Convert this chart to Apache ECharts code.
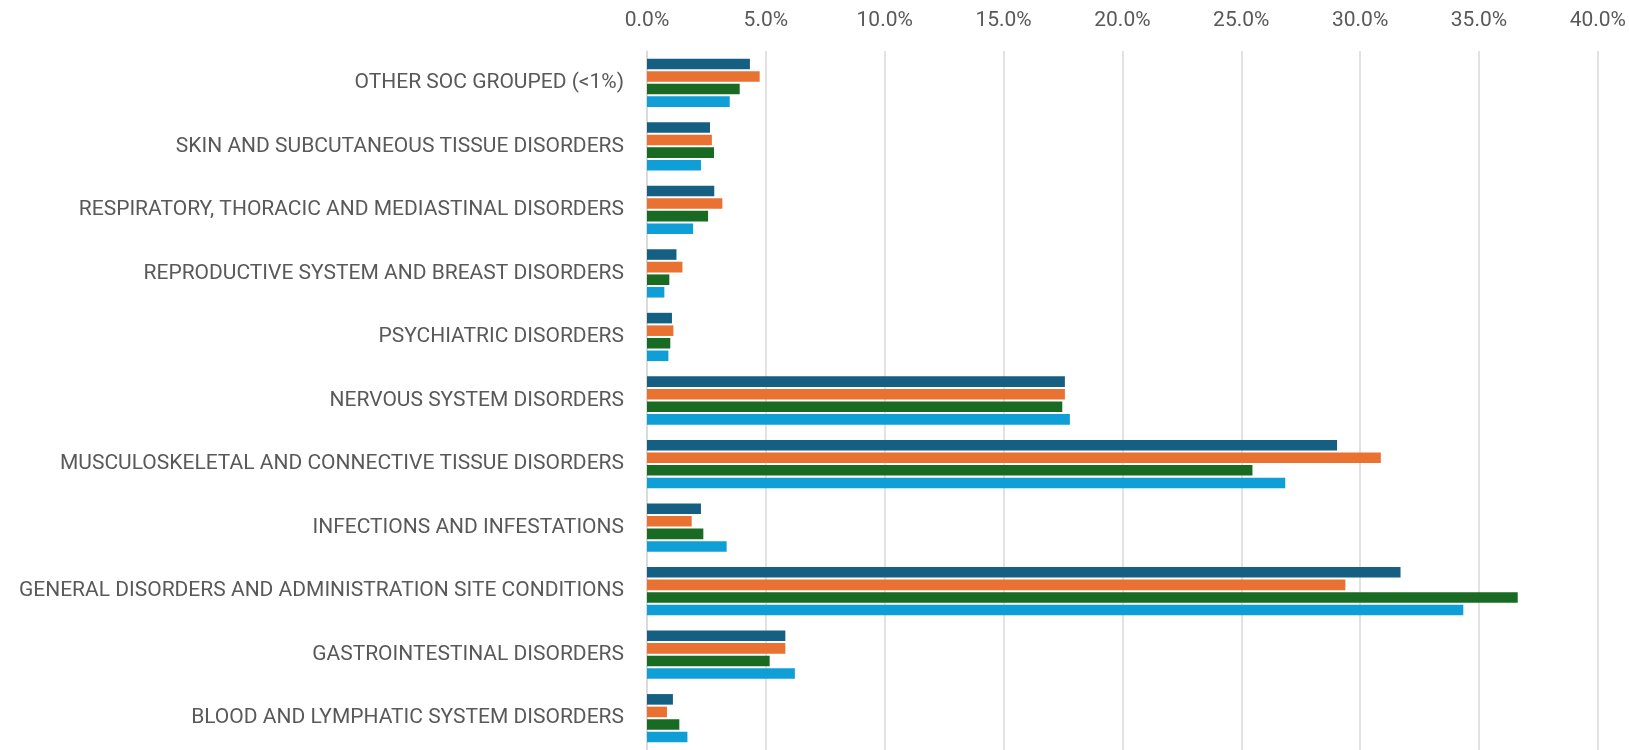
<!DOCTYPE html>
<html>
<head>
<meta charset="utf-8">
<script src="https://cdn.jsdelivr.net/npm/echarts@6/dist/echarts.min.js"></script>
<style>
    html, body { margin: 0; padding: 0; background: #fff; }
    #chart { width: 1629px; height: 750px; }
</style>
</head>
<body>
<div id="chart"></div>
<script>
// categories, bottom to top (as echarts draws a y category axis)
const categories = [
    'BLOOD AND LYMPHATIC SYSTEM DISORDERS',
    'GASTROINTESTINAL DISORDERS',
    'GENERAL DISORDERS AND ADMINISTRATION SITE CONDITIONS',
    'INFECTIONS AND INFESTATIONS',
    'MUSCULOSKELETAL AND CONNECTIVE TISSUE DISORDERS',
    'NERVOUS SYSTEM DISORDERS',
    'PSYCHIATRIC DISORDERS',
    'REPRODUCTIVE SYSTEM AND BREAST DISORDERS',
    'RESPIRATORY, THORACIC AND MEDIASTINAL DISORDERS',
    'SKIN AND SUBCUTANEOUS TISSUE DISORDERS',
    'OTHER SOC GROUPED (<1%)'
];

// percentages, same order as categories
const series1 = [1.09, 5.82, 31.70, 2.27, 29.03, 17.58, 1.05, 1.24, 2.83, 2.65, 4.33];
const series2 = [0.84, 5.82, 29.38, 1.88, 30.87, 17.58, 1.11, 1.49, 3.17, 2.73, 4.74];
const series3 = [1.36, 5.16, 36.63, 2.37, 25.47, 17.47, 0.98, 0.94, 2.57, 2.82, 3.90];
const series4 = [1.70, 6.22, 34.34, 3.35, 26.85, 17.79, 0.90, 0.73, 1.94, 2.27, 3.48];

const seriesNames = ['Series 1', 'Series 2', 'Series 3', 'Series 4'];
const colors = ['#156082', '#E97132', '#196B24', '#0F9ED5'];

const chart = echarts.init(document.getElementById('chart'));

const option = {
    animation: false,
    textStyle: { fontFamily: 'Roboto' },
    grid: {
        top: 51,
        bottom: 0,
        left: 647,
        right: 31
    },
    xAxis: {
        type: 'value',
        position: 'top',
        min: 0,
        max: 40,
        interval: 5,
        axisLine: { show: false },
        axisTick: { show: false },
        axisLabel: {
            color: '#595959',
            fontSize: 21,
            margin: 20,
            formatter: v => v.toFixed(1) + '%'
        },
        splitLine: { lineStyle: { color: '#d9d9d9', width: 1.5 } }
    },
    yAxis: {
        type: 'category',
        data: categories,
        axisLine: { show: true, lineStyle: { color: '#d9d9d9', width: 1.5 } },
        axisTick: { show: false },
        axisLabel: {
            color: '#595959',
            fontSize: 21,
            margin: 23
        }
    },
    series: [series1, series2, series3, series4].map((d, i) => ({
        name: seriesNames[i],
        type: 'bar',
        data: d,
        barGap: '19%',
        barCategoryGap: '24%',
        itemStyle: { color: colors[i] }
    }))
};

chart.setOption(option);
</script>
</body>
</html>
